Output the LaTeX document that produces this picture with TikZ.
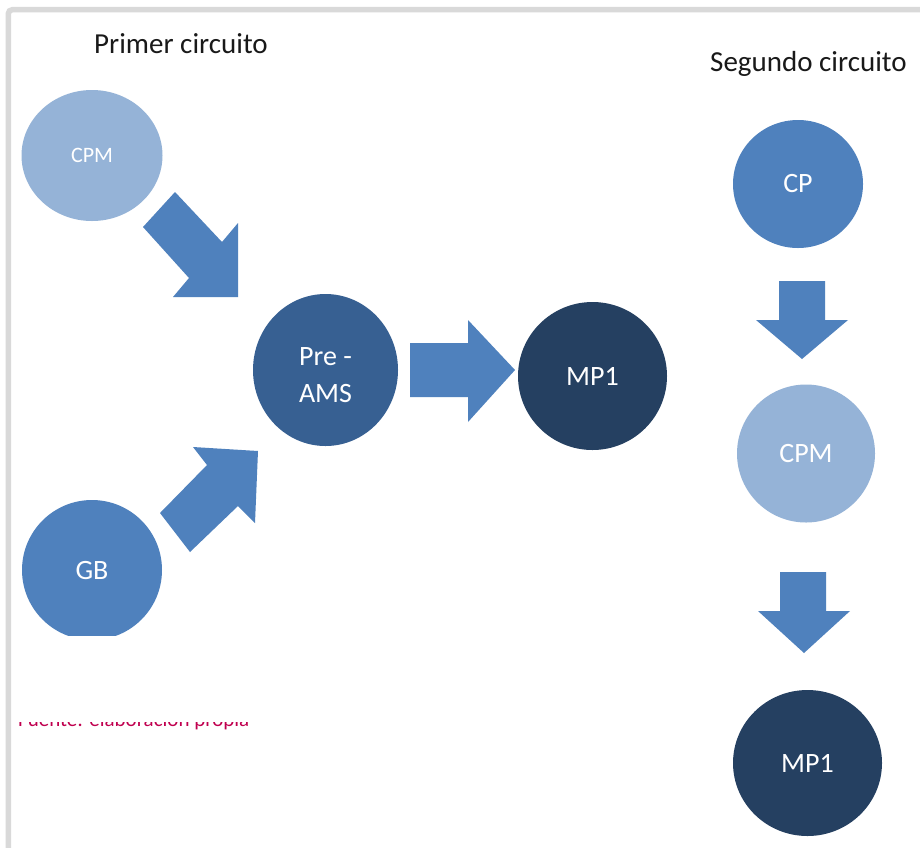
\documentclass[tikz,border=0pt]{standalone}
\usepackage{fontspec}
\setmainfont{Carlito}
\usetikzlibrary{shapes.geometric}
\definecolor{lightb}{HTML}{95B3D7}
\definecolor{midb}{HTML}{4F81BD}
\definecolor{preb}{HTML}{376092}
\definecolor{darkb}{HTML}{254061}
\definecolor{framegray}{HTML}{D9D9D9}
\definecolor{redsrc}{HTML}{C0004F}
\begin{document}
\begin{tikzpicture}[x=1pt,y=-1pt,
  circ/.style={ellipse, inner sep=0pt, text=white, font=\fontsize{28}{36}\selectfont, align=center},
  circlabel/.style={inner sep=0pt, text=white, font=\fontsize{28}{37}\selectfont, align=center},
  blockarrow/.style={fill=midb},
  title/.style={font=\fontsize{29}{32}\selectfont, text=black!90, anchor=base west, inner sep=0pt}]
\useasboundingbox (0,0) rectangle (920,847);
\fill[white] (0,0) rectangle (920,847);
% frame
\draw[framegray, line width=5.5pt, rounded corners=4pt] (8.3,850) -- (8.3,9.7) -- (925,9.7);
% titles
\node[title] (t1) at (94,53) {Primer circuito};
\node[title] (t2) at (710,71) {Segundo circuito};
% first circuit
\node[circ, fill=lightb, minimum width=141pt, minimum height=131pt, font=\fontsize{22}{24}\selectfont] (cpm1) at (92,155.5) {CPM};
\begin{scope}
  \clip (0,0) rectangle (920,635);
  \node[circ, fill=midb, minimum width=140pt, minimum height=140pt] (gb) at (92,570) {GB};
\end{scope}
\node[circ, fill=preb, minimum width=145pt, minimum height=152pt] (pre) at (325.5,370) {};
\node[circlabel] (preL) at (325.5,375) {Pre -\\AMS};
\node[circ, fill=darkb, minimum width=149pt, minimum height=148pt] (mp1a) at (592.5,376) {MP1};
% arrows first circuit
\fill[blockarrow] (143,227) -- (175,192) -- (222,242) -- (238,223) -- (238,297) -- (173,297) -- (189,278) -- cycle;
\fill[blockarrow] (160,513) -- (207,465) -- (193,447) -- (258,451) -- (255,523) -- (238,506) -- (190,552) -- cycle;
\fill[blockarrow] (410,343) -- (468,343) -- (468,320) -- (515,370) -- (468,422) -- (468,397) -- (410,397) -- cycle;
% second circuit
\node[circ, fill=midb, minimum width=130pt, minimum height=128pt] (cp) at (798,184) {CP};
\node[circ, fill=lightb, minimum width=138pt, minimum height=138pt] (cpm2) at (806,453.5) {CPM};
\node[circ, fill=darkb, minimum width=149pt, minimum height=146pt] (mp1b) at (807.5,763) {MP1};
\fill[blockarrow] (779,281) -- (825,281) -- (825,320) -- (848,320) -- (802,359) -- (756,320) -- (779,320) -- cycle;
\fill[blockarrow] (780,572) -- (826,572) -- (826,611) -- (850,611) -- (804,653) -- (758,611) -- (780,611) -- cycle;
% clipped source line
\begin{scope}
  \clip (0,722.5) rectangle (300,735);
  \node[anchor=base west, inner sep=0pt, text=redsrc, font=\fontsize{21}{24}\selectfont] (fuente) at (18,726) {Fuente: elaboración propia};
\end{scope}
\end{tikzpicture}
\end{document}
